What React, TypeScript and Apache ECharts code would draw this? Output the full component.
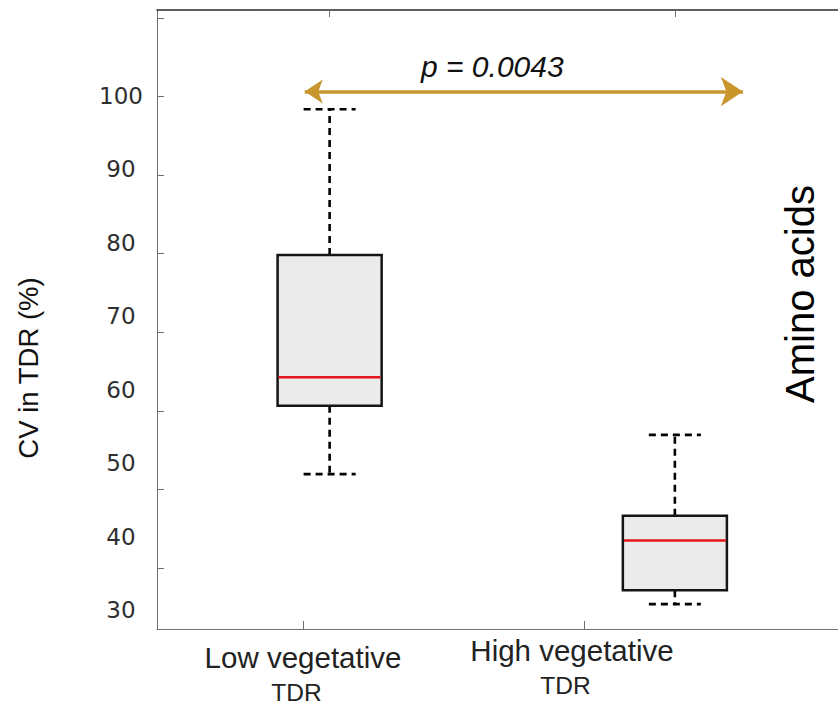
import React, { useEffect, useRef } from "react";
import * as echarts from "echarts";

// ---- data ----
const groups = ["Low vegetative", "High vegetative"];
const groupSub = ["TDR", "TDR"];
const boxX = [1, 2];
// [min, Q1, median, Q3, max] in CV (%)
const lowVeg = [48.5, 57.8, 61.7, 78.35, 98.2];
const highVeg = [30.8, 32.7, 39.45, 42.85, 53.85];
const yLabelValues = [30, 40, 50, 60, 70, 80, 90, 100];
const yTickValues = [40, 50, 60, 70, 80, 90, 100, 110];
const pArrowX = [0.928, 2.197];
const pArrowY = 100.6;
const pText = "p = 0.0043";
const panelName = "Amino acids";
const yName = "CV in TDR (%)";

// ---- styles / layout constants ----
const BOX_W = 0.3014;
const FONT = "'Liberation Sans', Arial, sans-serif";

export default function App() {
  const ref = useRef<HTMLDivElement>(null);
  useEffect(() => {
    if (!ref.current) return;
    const chart = echarts.init(ref.current, null, { renderer: "svg" });
    const boxData = [
      [boxX[0], ...lowVeg],
      [boxX[1], ...highVeg],
    ];
    const option: any = {
      animation: false,
      backgroundColor: "#ffffff",
      grid: [
        { left: 157, right: 0, top: 10, bottom: 82 },
        { left: 162.5, right: 113.5, top: 10, bottom: 82 },
      ],
      xAxis: [
        {
          gridIndex: 0,
          type: "value",
          min: 0.5,
          max: 2.4725,
          position: "bottom",
          axisLine: { show: true, lineStyle: { color: "#707070", width: 1 } },
          axisTick: { show: false },
          axisLabel: { show: false },
          splitLine: { show: false },
        },
        {
          gridIndex: 0,
          type: "value",
          min: 0.5,
          max: 2.4725,
          position: "top",
          axisLine: { show: true, lineStyle: { color: "#2a2a2a", width: 1.5 } },
          axisTick: {
            show: true,
            customValues: boxX,
            inside: true,
            length: 7,
            lineStyle: { color: "#707070" },
          },
          axisLabel: { show: false },
          splitLine: { show: false },
        },
        {
          gridIndex: 1,
          type: "category",
          position: "bottom",
          data: [
            { value: groups[0], textStyle: { padding: [7, 0, 0, 0] } },
            { value: groups[1], textStyle: { padding: [0, 24, 0, 0] } },
          ],
          axisLine: { show: false },
          axisTick: {
            show: true,
            alignWithLabel: true,
            inside: true,
            length: 8,
            lineStyle: { color: "#707070" },
          },
          axisLabel: {
            interval: 0,
            margin: 2,
            formatter: (v: string, i: number) => `{a|${v}}\n{b|${groupSub[i]}}`,
            rich: {
              a: { fontSize: 29.5, fontFamily: FONT, color: "#222", lineHeight: 38 },
              b: { fontSize: 24.5, fontFamily: FONT, color: "#222", lineHeight: 32, padding: [0, 13, 0, 0] },
            },
          },
          splitLine: { show: false },
        },
      ],
      yAxis: [
        {
          gridIndex: 0,
          type: "value",
          min: 27.41,
          max: 111.71,
          position: "left",
          axisLine: { show: false },
          axisTick: { show: false },
          splitLine: { show: false },
          axisLabel: {
            customValues: yLabelValues,
            fontFamily: "'DejaVu Sans', sans-serif",
            fontSize: 23,
            color: "#2e2e2e",
            align: "center",
            margin: 36,
          },
          name: yName,
          nameLocation: "middle",
          nameRotate: 90,
          nameGap: 115,
          nameTextStyle: {
            fontFamily: FONT,
            fontSize: 27.5,
            color: "#111",
            padding: [0, 97, 0, 0],
          },
        },
        {
          gridIndex: 0,
          type: "value",
          min: 32.24,
          max: 111.02,
          position: "left",
          axisLine: { show: true, lineStyle: { color: "#6e6e6e", width: 1 } },
          axisTick: {
            show: true,
            customValues: yTickValues,
            inside: true,
            length: 7,
            lineStyle: { color: "#6e6e6e" },
          },
          axisLabel: { show: false },
          splitLine: { show: false },
        },
        { gridIndex: 1, type: "value", show: false },
      ],
      series: [
        {
          type: "custom",
          xAxisIndex: 0,
          yAxisIndex: 0,
          encode: { x: 0, y: [1, 2, 3, 4, 5] },
          data: boxData,
          silent: true,
          renderItem: (params: any, api: any) => {
            const x = api.value(0);
            const pMin = api.coord([x, api.value(1)]);
            const pQ1 = api.coord([x, api.value(2)]);
            const pMd = api.coord([x, api.value(3)]);
            const pQ3 = api.coord([x, api.value(4)]);
            const pMax = api.coord([x, api.value(5)]);
            const half = api.size([BOX_W, 0])[0] / 2;
            const cap = half / 2;
            const cx = pMd[0];
            const whisk = { stroke: "#000", lineWidth: 2.6, lineDash: [7, 5], fill: null };
            return {
              type: "group",
              children: [
                { type: "line", shape: { x1: cx, y1: pQ3[1], x2: cx, y2: pMax[1] }, style: whisk },
                { type: "line", shape: { x1: cx, y1: pQ1[1], x2: cx, y2: pMin[1] }, style: whisk },
                { type: "line", shape: { x1: cx - cap, y1: pMax[1], x2: cx + cap, y2: pMax[1] }, style: whisk },
                { type: "line", shape: { x1: cx - cap, y1: pMin[1], x2: cx + cap, y2: pMin[1] }, style: whisk },
                {
                  type: "rect",
                  shape: { x: cx - half, y: pQ3[1], width: 2 * half, height: pQ1[1] - pQ3[1] },
                  style: { fill: "#EBEBEB", stroke: "#151515", lineWidth: 2.5 },
                },
                {
                  type: "line",
                  shape: { x1: cx - half + 1, y1: pMd[1], x2: cx + half - 1, y2: pMd[1] },
                  style: { stroke: "#E3141B", lineWidth: 2.5 },
                },
              ],
            };
          },
        },
        {
          type: "lines",
          coordinateSystem: "cartesian2d",
          xAxisIndex: 0,
          yAxisIndex: 0,
          silent: true,
          symbol: ["arrow", "arrow"],
          symbolSize: [18, 22],
          lineStyle: { color: "#C9962E", width: 3.5, opacity: 1, curveness: 0 },
          data: [{ coords: [[pArrowX[0], pArrowY], [pArrowX[1], pArrowY]] }],
          z: 5,
        },
      ],
      graphic: [
        {
          type: "text",
          x: 421,
          y: 66,
          style: {
            text: pText,
            fontFamily: FONT,
            fontStyle: "italic",
            fontSize: 30,
            fill: "#111",
            textVerticalAlign: "middle",
          },
        },
        {
          type: "text",
          x: 800,
          y: 294,
          rotation: Math.PI / 2,
          style: {
            text: panelName,
            fontFamily: FONT,
            fontSize: 40,
            fill: "#000",
            textAlign: "center",
            textVerticalAlign: "middle",
          },
        },
      ],
    };
    chart.setOption(option);
    return () => chart.dispose();
  }, []);
  return (
    <div
      ref={ref}
      style={{ position: "absolute", left: 0, top: 0, width: 838, height: 711 }}
    />
  );
}
